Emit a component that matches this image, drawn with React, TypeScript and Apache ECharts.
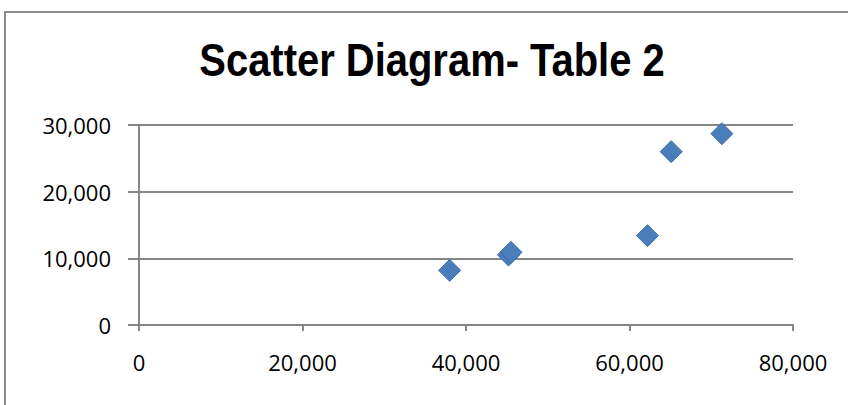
import React, { useEffect, useRef } from "react";
import * as echarts from "echarts";

const titleText = "Scatter Diagram- Table 2";
const xValues = [38000, 45200, 45500, 62200, 65100, 71300];
const yValues = [8200, 10500, 10900, 13400, 26000, 28700];

export default function App() {
  const ref = useRef<HTMLDivElement>(null);
  useEffect(() => {
    document.body.style.margin = "0";
    const chart = echarts.init(ref.current!, null, { renderer: "svg" });
    const fmt = (v: number) => v.toLocaleString("en-US");
    chart.setOption({
      animation: false,
      backgroundColor: "#ffffff",
      graphic: [
        {
          type: "rect",
          shape: { x: 5, y: 12, width: 900, height: 500 },
          style: { fill: "none", stroke: "#8c8c8c", lineWidth: 2 },
          silent: true,
        },
        {
          type: "text",
          x: 432,
          y: 60,
          scaleX: 0.85,
          style: {
            text: titleText,
            fontFamily: "Liberation Sans",
            fontWeight: "bold",
            fontSize: 47,
            fill: "#000000",
            align: "center",
            verticalAlign: "middle",
          },
          silent: true,
        },
      ],
      grid: { left: 139, right: 55, top: 125, bottom: 80 },
      xAxis: {
        type: "value",
        min: 0,
        max: 80000,
        interval: 20000,
        axisLine: { show: true, onZero: false, lineStyle: { color: "#868686", width: 2 } },
        axisTick: { show: true, length: 6, lineStyle: { color: "#868686", width: 2 } },
        splitLine: { show: false },
        axisLabel: {
          formatter: fmt,
          margin: 26,
          fontFamily: "Open Sans",
          fontSize: 22,
          color: "#000000",
        },
      },
      yAxis: {
        type: "value",
        min: 0,
        max: 30000,
        interval: 10000,
        axisLine: { show: true, onZero: false, lineStyle: { color: "#868686", width: 2 } },
        axisTick: { show: true, length: 11, lineStyle: { color: "#868686", width: 2 } },
        splitLine: { show: true, lineStyle: { color: "#868686", width: 2 } },
        axisLabel: {
          formatter: fmt,
          margin: 28,
          fontFamily: "Open Sans",
          fontSize: 22,
          color: "#000000",
        },
      },
      series: [
        {
          type: "scatter",
          symbol: "diamond",
          symbolSize: 22,
          data: xValues.map((x, i) => [x, yValues[i]]),
          itemStyle: { color: "#4a7ebb", opacity: 1, borderColor: "#3d6ea8", borderWidth: 1 },
        },
      ],
    });
    return () => chart.dispose();
  }, []);
  return <div ref={ref} style={{ width: 848, height: 405 }} />;
}
